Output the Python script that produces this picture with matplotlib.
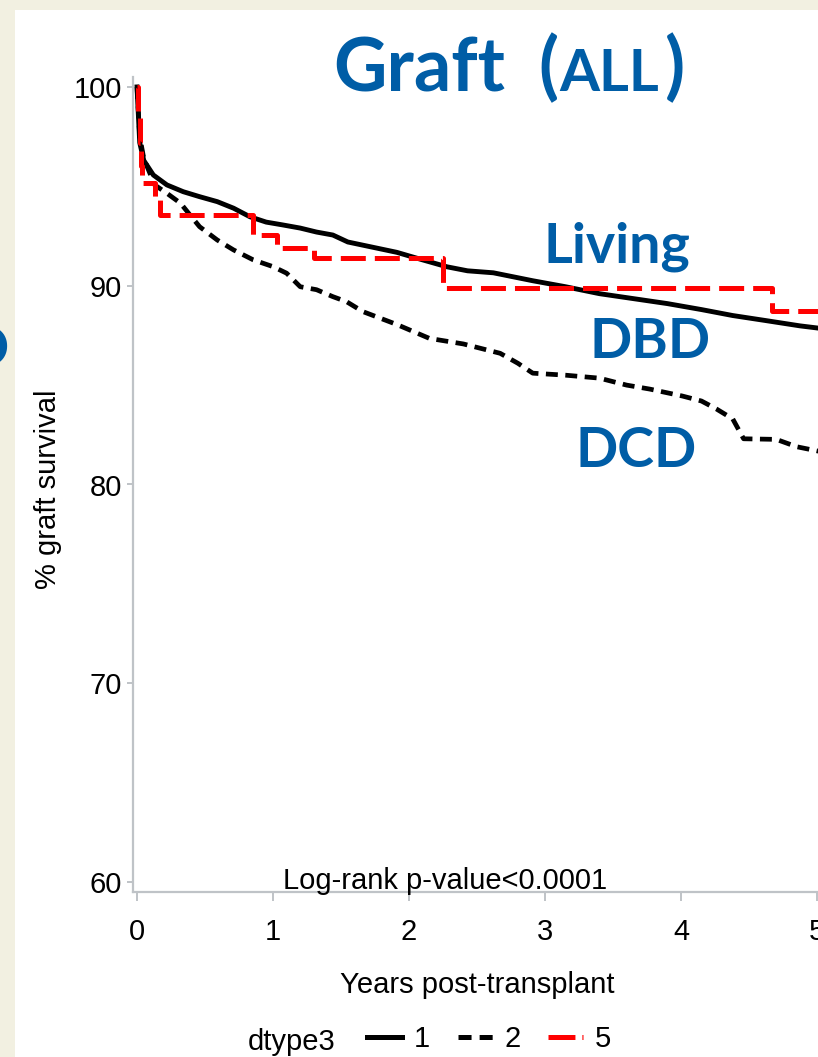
import matplotlib
matplotlib.use("Agg")
import matplotlib.pyplot as plt
from matplotlib.lines import Line2D
from matplotlib.patches import Rectangle

plt.rcParams['font.family'] = ['Liberation Sans', 'DejaVu Sans']
plt.rcParams['lines.scale_dashes'] = False

# Kaplan-Meier graft survival, read per donor type (years, % surviving)
years_1 = [0, 0.02, 0.05, 0.12, 0.22, 0.34, 0.46, 0.59, 0.71, 0.83, 0.95, 1.07,
           1.2, 1.32, 1.44, 1.55, 1.91, 2.1, 2.28, 2.43, 2.62, 2.91, 3.15, 3.4,
           3.65, 3.9, 4.15, 4.38, 4.62, 4.875, 5.03]
surv_1 = [100, 97.2, 96.3, 95.57, 95.07, 94.73, 94.48, 94.23, 93.9, 93.47, 93.2,
          93.06, 92.9, 92.7, 92.55, 92.2, 91.68, 91.3, 90.95, 90.75, 90.65, 90.25,
          89.95, 89.6, 89.35, 89.1, 88.8, 88.5, 88.25, 87.98, 87.85]

years_2 = [0, 0.02, 0.05, 0.13, 0.22, 0.32, 0.38, 0.46, 0.59, 0.71, 0.855, 1.0,
           1.1, 1.2, 1.32, 1.44, 1.54, 1.66, 1.91, 2.15, 2.4, 2.67, 2.8, 2.91,
           3.15, 3.4, 3.6, 3.77, 4.01, 4.15, 4.26, 4.38, 4.42, 4.46, 4.7, 4.85, 5.03]
surv_2 = [100, 97.5, 96.4, 95.07, 94.65, 94.15, 93.64, 92.97, 92.3, 91.8, 91.3,
          90.96, 90.63, 89.95, 89.8, 89.45, 89.2, 88.7, 88.05, 87.35, 87.07, 86.6,
          86.1, 85.6, 85.5, 85.35, 85.0, 84.8, 84.45, 84.2, 83.8, 83.3, 82.8, 82.3,
          82.27, 81.9, 81.65]

years_5 = [0, 0.01, 0.02, 0.03, 0.04, 0.13, 0.17, 0.85, 1.03, 1.30, 2.25, 4.67, 5.03]
surv_5 = [100, 98.6, 97.2, 96.0, 95.15, 94.4, 93.55, 92.55, 91.9, 91.4, 89.9, 88.75, 88.75]

group_labels = ['1', '2', '5']
donor_names = ['Living', 'DBD', 'DCD']

W, H = 818, 1057
BLUE = '#005DA6'
AXIS_GREY = '#BFC3C7'


def fx(px):
    return px / W


def fy(py):
    return 1 - py / H


fig = plt.figure(figsize=(W / 100, H / 100), dpi=100)
fig.patch.set_facecolor('#F2F0E1')
fig.patches.append(Rectangle((fx(15), 0), 1, fy(10), transform=fig.transFigure,
                             facecolor='white', edgecolor='none', zorder=-5))

ax = fig.add_axes([fx(133), fy(892), (821 - 133) / W, (892 - 77) / H])
ax.set_zorder(2)
ax.patch.set_alpha(0)

ax.plot(years_1, surv_1, color='black', lw=3.5, solid_joinstyle='round')
ax.plot(years_2, surv_2, color='black', lw=3.4, dashes=(8.6, 5.4))
ax.plot(years_5, surv_5, color='#FF0000', lw=3.6, drawstyle='steps-post',
        dashes=(18, 6.5))

ax.set_xlim(-0.0294, 5.029)
ax.set_ylim(59.5, 100.5)
ax.set_xticks([0, 1, 2, 3, 4, 5])
ax.set_yticks([60, 70, 80, 90, 100])

for side in ['top', 'right']:
    ax.spines[side].set_visible(False)
for side in ['left', 'bottom']:
    ax.spines[side].set_color(AXIS_GREY)
    ax.spines[side].set_linewidth(1.6)

ax.tick_params(axis='both', colors=AXIS_GREY, labelcolor='black',
               labelsize=21, width=1.4)
ax.tick_params(axis='y', length=4, pad=4)
ax.tick_params(axis='x', length=6.5, pad=12.5)

ax.text(2.265, 59.65, 'Log-rank p-value<0.0001', fontsize=21,
        ha='center', va='baseline')

fig.text(fx(48), fy(489), '% graft survival', rotation=90, fontsize=21,
         ha='center', va='center')
fig.text(fx(477), fy(993), 'Years post-transplant', fontsize=21,
         ha='center', va='baseline')

# legend row: "dtype3" followed by the three line keys
fig.text(fx(248), fy(1050), 'dtype3', fontsize=21, ha='left', va='baseline')
handles = [
    Line2D([], [], color='black', lw=3.6),
    Line2D([], [], color='black', lw=3.6, dashes=(9.4, 5.8)),
    Line2D([], [], color='#FF0000', lw=3.6, dashes=(19.4, 5, 2.2, 5)),
]
fig.legend(handles, group_labels, loc='center left',
           bbox_to_anchor=(fx(367), fy(1039)), ncol=3, frameon=False,
           fontsize=21, handlelength=1.2, handletextpad=0.4,
           columnspacing=0.95, borderpad=0, borderaxespad=0)

# slide headings in blue
fig.text(fx(333), fy(91), 'Graft', family='Lato', weight='bold',
         fontsize=53, color=BLUE, va='baseline')
fig.text(fx(538), fy(91), '(', family='Lato', weight='bold',
         fontsize=53, color=BLUE, va='baseline')
fig.text(fx(559), fy(91), 'ALL', family='Lato', weight='bold',
         fontsize=41.5, color=BLUE, va='baseline')
fig.text(fx(665), fy(91), ')', family='Lato', weight='bold',
         fontsize=53, color=BLUE, va='baseline')

name_pos = [(543, 262), (589, 358), (576, 467)]
for name, (px, py) in zip(donor_names, name_pos):
    fig.text(fx(px), fy(py), name, family='Lato', weight='bold',
             fontsize=40, color=BLUE, va='baseline')

fig.text(fx(9), fy(366), 'D', family='Lato', weight='bold', fontsize=40,
         color=BLUE, ha='right', va='baseline')

fig.savefig('out.png', dpi=100, facecolor=fig.get_facecolor())
